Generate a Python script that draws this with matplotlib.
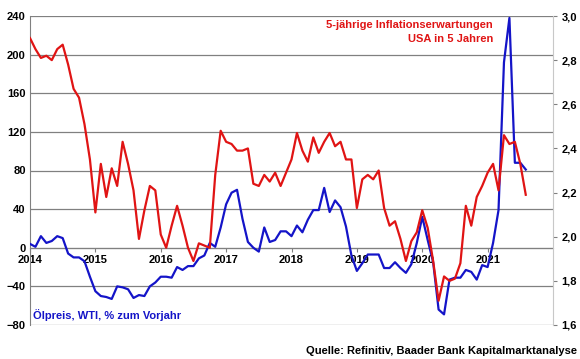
import numpy as np
import matplotlib
matplotlib.use("Agg")
import matplotlib.pyplot as plt
from matplotlib.ticker import FixedLocator, FuncFormatter

plt.rcParams['font.family'] = ['Liberation Sans', 'DejaVu Sans']
plt.rcParams['font.weight'] = 'bold'

# monthly data, Jan 2014 .. Aug 2021
oil_yoy = [4, 1, 12, 5, 7, 12, 10, -6, -10, -10, -14, -30,
           -45, -50, -51, -53, -40, -41, -43, -52, -49, -50, -40, -36,
           -30, -30, -31, -20, -23, -19, -19, -11, -8, 5, 1, 21,
           45, 57, 60, 30, 6, 0, -4, 21, 6, 8, 17, 17,
           12, 23, 16, 29, 39, 39, 62, 37, 49, 42, 22, -8,
           -24, -16, -7, -7, -7, -21, -21, -15, -21, -26, -17, 5,
           32, 8, -15, -64, -69, -33, -31, -31, -23, -25, -33, -18,
           -20, 5, 39, 192, 238, 88, 88, 81]

infl_5y5y = [2.90, 2.85, 2.81, 2.82, 2.80, 2.85, 2.87, 2.78, 2.67, 2.63, 2.51, 2.35,
             2.11, 2.33, 2.18, 2.31, 2.23, 2.43, 2.33, 2.21, 1.99, 2.12, 2.23, 2.21,
             2.01, 1.95, 2.05, 2.14, 2.05, 1.95, 1.89, 1.97, 1.96, 1.95, 2.28, 2.48,
             2.43, 2.42, 2.39, 2.39, 2.40, 2.24, 2.23, 2.28, 2.25, 2.29, 2.23, 2.29,
             2.35, 2.47, 2.39, 2.34, 2.45, 2.38, 2.43, 2.47, 2.41, 2.43, 2.35, 2.35,
             2.13, 2.26, 2.28, 2.26, 2.30, 2.13, 2.05, 2.07, 1.99, 1.89, 1.98, 2.02,
             2.12, 2.04, 1.89, 1.71, 1.82, 1.80, 1.81, 1.88, 2.14, 2.05, 2.18, 2.23,
             2.29, 2.33, 2.21, 2.46, 2.42, 2.43, 2.33, 2.19]

years = ['2014', '2015', '2016', '2017', '2018', '2019', '2020', '2021']
left_ticks = [-80, -40, 0, 40, 80, 120, 160, 200, 240]
right_ticks = [1.6, 1.8, 2.0, 2.2, 2.4, 2.6, 2.8, 3.0]

red = '#E01414'
blue = '#1414C8'
grey = '#808080'

fig = plt.figure(figsize=(5.8, 3.59), dpi=100)
ax = fig.add_axes([30/580, 1-325/359, 523/580, 309/359])
months = np.arange(len(oil_yoy))

ax.set_xlim(0, 96)
ax.set_ylim(-80, 240)
ax.yaxis.set_major_locator(FixedLocator(left_ticks))
ax.grid(axis='y', color=grey, lw=0.9)
ax.set_axisbelow(True)
ax.plot(months, oil_yoy, color=blue, lw=1.6, zorder=3)

ax.spines['top'].set_visible(False)
ax.spines['right'].set_visible(False)
ax.spines['left'].set_color(grey)
ax.spines['bottom'].set_position(('data', 0))
ax.spines['bottom'].set_color(grey)
ax.set_xticks(np.arange(0, 96, 12))
ax.set_xticklabels(years)
ax.tick_params(axis='x', direction='out', length=3, color=grey, labelsize=8, pad=2)
ax.tick_params(axis='y', length=0, labelsize=8, pad=3)

ax2 = ax.twinx()
ax2.set_ylim(1.6, 3.0)
ax2.yaxis.set_major_locator(FixedLocator(right_ticks))
ax2.yaxis.set_major_formatter(FuncFormatter(lambda v, p: f"{v:.1f}".replace('.', ',')))
ax2.plot(months, infl_5y5y, color=red, lw=1.6)
for s in ['top', 'left', 'bottom']:
    ax2.spines[s].set_visible(False)
ax2.spines['right'].set_color('#C8C8C8')
ax2.tick_params(axis='y', direction='out', length=3, color=grey, labelsize=8, pad=3)

fig.text(493/580, 1-25/359, '5-jährige Inflationserwartungen', color=red,
         fontsize=8, ha='right', va='center')
fig.text(493/580, 1-39/359, 'USA in 5 Jahren', color=red,
         fontsize=8, ha='right', va='center')
fig.text(33/580, 1-315/359, 'Ölpreis, WTI, % zum Vorjahr', color=blue,
         fontsize=8, ha='left', va='center')
fig.text(577/580, 1-351/359, 'Quelle: Refinitiv, Baader Bank Kapitalmarktanalyse',
         color='black', fontsize=8, ha='right', va='center')

fig.savefig('out.png', dpi=100)
